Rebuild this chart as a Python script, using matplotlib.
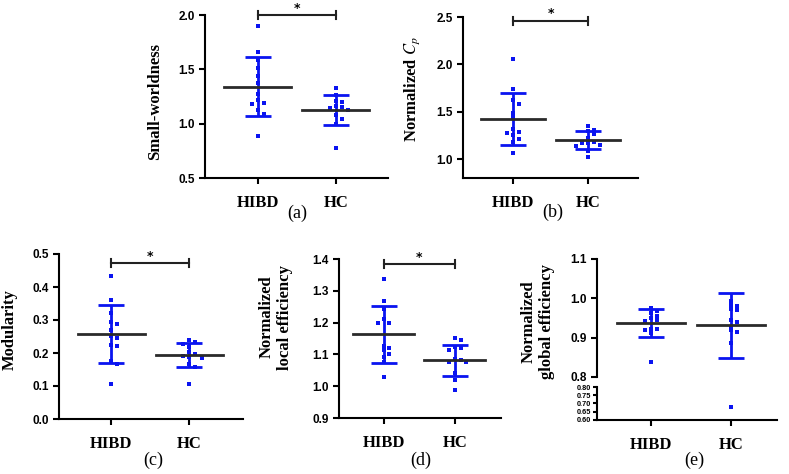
import numpy as np
import matplotlib
matplotlib.use("Agg")
import matplotlib.pyplot as plt

plt.rcParams['mathtext.fontset'] = 'stix'

groups = ['HIBD', 'HC']

# values
sw_hibd = [1.90, 1.66, 1.59, 1.51, 1.44, 1.37, 1.27, 1.22, 1.19, 1.18, 1.13, 1.09, 0.89]
sw_hc = [1.33, 1.26, 1.21, 1.20, 1.16, 1.15, 1.14, 1.13, 1.08, 1.04, 1.00, 0.78]
sw_mean = [1.34, 1.125]
sw_sd = [0.27, 0.14]

cp_hibd = [2.06, 1.74, 1.62, 1.58, 1.49, 1.44, 1.32, 1.29, 1.28, 1.25, 1.21, 1.18, 1.06]
cp_hc = [1.35, 1.31, 1.30, 1.26, 1.22, 1.18, 1.17, 1.17, 1.15, 1.14, 1.08, 1.02]
cp_mean = [1.425, 1.20]
cp_sd = [0.275, 0.095]

mod_hibd = [0.434, 0.360, 0.320, 0.295, 0.287, 0.269, 0.252, 0.244, 0.224, 0.221, 0.176, 0.166, 0.106]
mod_hc = [0.240, 0.233, 0.226, 0.218, 0.204, 0.198, 0.191, 0.187, 0.185, 0.167, 0.158, 0.107]
mod_mean = [0.258, 0.193]
mod_sd = [0.087, 0.036]

le_hibd = [1.338, 1.268, 1.242, 1.211, 1.199, 1.199, 1.127, 1.121, 1.113, 1.101, 1.093, 1.075, 1.028]
le_hc = [1.152, 1.144, 1.122, 1.120, 1.114, 1.087, 1.083, 1.077, 1.075, 1.040, 1.020, 0.987]
le_mean = [1.163, 1.081]
le_sd = [0.089, 0.050]

ge_hibd = [0.975, 0.968, 0.963, 0.956, 0.950, 0.946, 0.943, 0.923, 0.921, 0.919, 0.913, 0.838]
ge_hc = [0.994, 0.984, 0.981, 0.972, 0.970, 0.944, 0.941, 0.928, 0.919, 0.915, 0.887, 0.68]
ge_mean = [0.937, 0.931]
ge_sd = [0.036, 0.082]

SERIF = 'Liberation Serif'
SANS = 'Liberation Sans'
W, H = 789, 474
BLUE = '#0a14f0'


def box(x0, y0, x1, y1):
    # pixel box -> figure fraction
    return [x0 / W, 1 - y1 / H, (x1 - x0) / W, (y1 - y0) / H]


def swarm(vals, step, thr):
    vals = np.asarray(vals, float)
    offs = np.zeros(len(vals))
    placed = []
    for i in np.argsort(vals)[::-1]:
        for c in [0, 1, -1, 2, -2]:
            x = c * step
            ok = True
            for j in placed:
                if abs(vals[i] - vals[j]) < thr and abs(offs[j] - x) < step * 0.6:
                    ok = False
                    break
            if ok:
                break
        offs[i] = x
        placed.append(i)
    return offs


def style_axes(ax, lw=1.5):
    for s in ['top', 'right']:
        ax.spines[s].set_visible(False)
    for s in ['left', 'bottom']:
        ax.spines[s].set_linewidth(lw)
    ax.tick_params(width=lw, length=4, direction='out')
    for t in ax.get_yticklabels():
        t.set_fontfamily(SANS)
        t.set_fontweight('bold')
        t.set_fontsize(8.5)


def draw_group(ax, data, mean, sd, thr, msize=12):
    for i, vals in enumerate(data):
        offs = swarm(vals, 0.08, thr)
        ax.scatter(i + offs, vals, marker='s', s=msize, color=BLUE, linewidths=0, zorder=3)
        ax.errorbar(i, mean[i], yerr=sd[i], fmt='none', ecolor=BLUE, elinewidth=2,
                    capsize=9.5, capthick=2, zorder=2)
        ax.plot([i - 0.43, i + 0.43], [mean[i], mean[i]], color='#2a2a2a', lw=2, zorder=4)


def bracket(ax, y, cap):
    ax.plot([0, 1], [y, y], color='#222222', lw=1.5, clip_on=False)
    for xx in [0, 1]:
        ax.plot([xx, xx], [y - cap, y + cap], color='#222222', lw=1.5, clip_on=False)
    ax.annotate('*', xy=(0.5, y), xytext=(0, 5), textcoords='offset points',
                ha='center', va='center', fontsize=9, fontweight='bold', annotation_clip=False)


def xlabels(ax):
    ax.set_xticks([0, 1])
    ax.set_xticklabels(groups, fontfamily=SERIF, fontweight='bold', fontsize=12)
    ax.tick_params(axis='x', length=5, pad=8)


def ylab(ax, text, x, y):
    ax.text(x, y, text, transform=ax.transAxes, rotation=90, ha='center', va='center',
            fontfamily=SERIF, fontweight='bold', fontsize=12, multialignment='center')


fig = plt.figure(figsize=(W / 100, H / 100), dpi=100)

# (a)
ax = fig.add_axes(box(205, 15, 388, 178))
draw_group(ax, [sw_hibd, sw_hc], sw_mean, sw_sd, 0.045)
ax.set_xlim(-0.68, 1.67)
ax.set_ylim(0.5, 2.0)
ax.set_yticks([0.5, 1.0, 1.5, 2.0])
xlabels(ax)
style_axes(ax)
bracket(ax, 2.0, 0.035)
ylab(ax, 'Small-worldness', -0.275, 0.47)

# (b)
ax = fig.add_axes(box(463, 17, 638, 178))
draw_group(ax, [cp_hibd, cp_hc], cp_mean, cp_sd, 0.045)
ax.set_xlim(-0.667, 1.667)
ax.set_ylim(0.8, 2.5)
ax.set_yticks([1.0, 1.5, 2.0, 2.5])
xlabels(ax)
style_axes(ax)
bracket(ax, 2.46, 0.04)
ylab(ax, 'Normalized $C_p$', -0.29, 0.55)

# (c)
ax = fig.add_axes(box(59, 254, 243, 419))
draw_group(ax, [mod_hibd, mod_hc], mod_mean, mod_sd, 0.014)
ax.set_xlim(-0.667, 1.69)
ax.set_ylim(0.0, 0.5)
ax.set_yticks(np.arange(0, 0.51, 0.1))
xlabels(ax)
style_axes(ax)
bracket(ax, 0.472, 0.012)
ylab(ax, 'Modularity', -0.27, 0.54)

# (d)
ax = fig.add_axes(box(339, 259, 501, 418))
draw_group(ax, [le_hibd, le_hc], le_mean, le_sd, 0.014)
ax.set_xlim(-0.63, 1.65)
ax.set_ylim(0.9, 1.4)
ax.set_yticks(np.arange(0.9, 1.41, 0.1))
xlabels(ax)
style_axes(ax)
bracket(ax, 1.384, 0.012)
ylab(ax, 'Normalized\nlocal efficiency', -0.39, 0.635)

# (e) broken axis
ax_top = fig.add_axes(box(597, 259, 777, 377))
ax_bot = fig.add_axes(box(597, 387, 777, 420), sharex=ax_top)
for a in [ax_top, ax_bot]:
    draw_group(a, [ge_hibd, ge_hc], ge_mean, ge_sd, 0.008, msize=9)
ax_top.set_xlim(-0.675, 1.575)
ax_top.set_ylim(0.8, 1.1)
ax_top.set_yticks([0.8, 0.9, 1.0, 1.1])
ax_bot.set_ylim(0.6, 0.8)
ax_bot.set_yticks([0.60, 0.65, 0.70, 0.75, 0.80])
style_axes(ax_top)
ax_top.spines['bottom'].set_visible(False)
ax_top.tick_params(axis='x', bottom=False, labelbottom=False)
xlabels(ax_bot)
style_axes(ax_bot)
ax_bot.tick_params(axis='y', length=3, pad=1)
for t in ax_bot.get_yticklabels():
    t.set_fontsize(5.3)
ylab(ax_top, 'Normalized\nglobal efficiency', -0.33, 0.47)

# panel letters
for lab, px, py in [('(a)', 297, 213), ('(b)', 553, 212), ('(c)', 153, 460),
                    ('(d)', 421, 460), ('(e)', 694, 460)]:
    fig.text(px / W, 1 - py / H, lab, ha='center', va='center', fontfamily=SERIF, fontsize=13)

fig.savefig('out.png', dpi=100)
